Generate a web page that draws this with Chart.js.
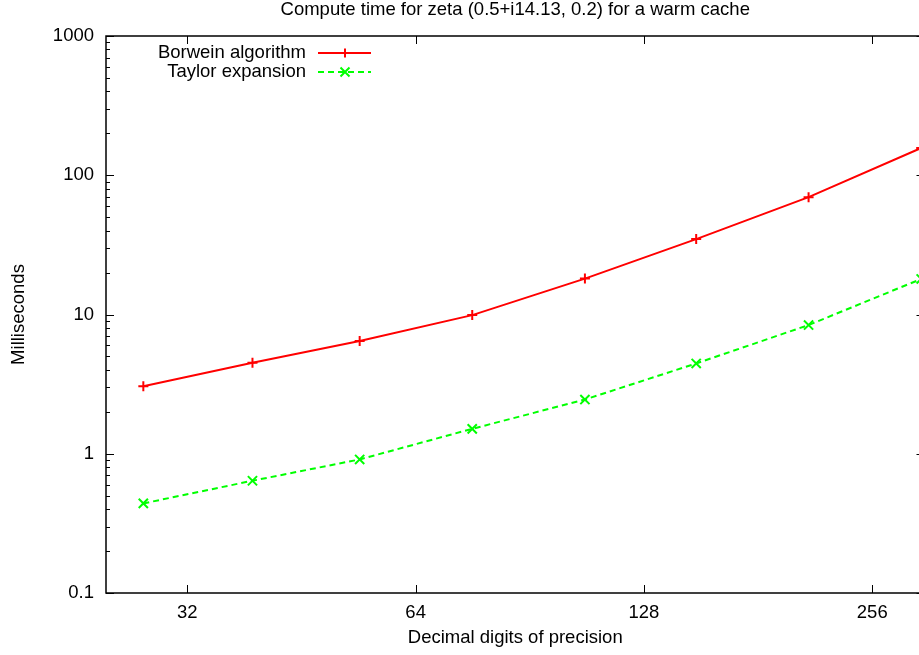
<!DOCTYPE html>
<html>
<head>
<meta charset="utf-8">
<script src="https://cdn.jsdelivr.net/npm/chart.js@4.4.1/dist/chart.umd.min.js"></script>
<style>
  html, body { margin: 0; padding: 0; background: #fff; overflow: hidden; }
  #wrap { position: absolute; left: 0; top: 0; width: 933px; height: 655px; }
  #chart { width: 933px; height: 655px; }
</style>
</head>
<body>
<div id="wrap"><canvas id="chart" width="933" height="655"></canvas></div>
<script>
// values
const digits = [28, 39, 54, 76, 107, 150, 211, 297];
const borweinMs = [3.05, 4.5, 6.45, 9.9, 18.1, 34.8, 69.6, 157];
const taylorMs = [0.44, 0.64, 0.91, 1.51, 2.45, 4.45, 8.4, 18.0];
const xTicks = [32, 64, 128, 256];
const yTicks = [0.1, 1, 10, 100, 1000];
const seriesNames = ['Borwein algorithm', 'Taylor expansion'];
const titleText = 'Compute time for zeta (0.5+i14.13, 0.2) for a warm cache';

const FONT = '"Liberation Sans", Arial, Helvetica, sans-serif';
const FS = 18.5;

function toPoints(xs, ys) {
    return xs.map((x, i) => ({ x: x, y: ys[i] }));
}

// gnuplot-like frame: border, inward ticks on all sides, minor log ticks on y
const framePlugin = {
    id: 'frame',
    beforeDatasetsDraw(chart) {
        const ctx = chart.ctx;
        const a = chart.chartArea;
        const xs = chart.scales.x;
        const ys = chart.scales.y;
        ctx.save();
        ctx.strokeStyle = '#000';
        ctx.lineWidth = 1.5;
        ctx.strokeRect(a.left, a.top, a.right - a.left, a.bottom - a.top);
        ctx.lineWidth = 1;
        ctx.beginPath();
        xTicks.forEach(v => {
            const px = Math.round(xs.getPixelForValue(v)) + 0.5;
            ctx.moveTo(px, a.bottom); ctx.lineTo(px, a.bottom - 8);
            ctx.moveTo(px, a.top); ctx.lineTo(px, a.top + 8);
        });
        yTicks.forEach(v => {
            const py = Math.round(ys.getPixelForValue(v)) + 0.5;
            ctx.moveTo(a.left, py); ctx.lineTo(a.left + 8, py);
            ctx.moveTo(a.right, py); ctx.lineTo(a.right - 8, py);
        });
        for (let d = 0; d < yTicks.length - 1; d++) {
            for (let m = 2; m <= 9; m++) {
                const py = Math.round(ys.getPixelForValue(yTicks[d] * m)) + 0.5;
                ctx.moveTo(a.left, py); ctx.lineTo(a.left + 4, py);
                ctx.moveTo(a.right, py); ctx.lineTo(a.right - 4, py);
            }
        }
        ctx.stroke();
        ctx.restore();
    },
    afterDraw(chart) {
        const ctx = chart.ctx;
        const a = chart.chartArea;
        ctx.save();
        // title
        ctx.fillStyle = '#000';
        ctx.font = FS + 'px ' + FONT;
        ctx.textAlign = 'center';
        ctx.textBaseline = 'middle';
        ctx.fillText(titleText, (a.left + a.right) / 2, 10);

        // key, text to the left of the sample like gnuplot
        ctx.textAlign = 'right';
        chart.data.datasets.forEach((ds, i) => {
            const y = 53 + i * 19;
            ctx.fillStyle = '#000';
            ctx.fillText(ds.label, 306, y);
            ctx.strokeStyle = ds.borderColor;
            ctx.lineWidth = ds.borderWidth;
            ctx.setLineDash(ds.borderDash || []);
            ctx.beginPath();
            ctx.moveTo(318, y); ctx.lineTo(371, y);
            ctx.stroke();
            ctx.setLineDash([]);
            ctx.lineWidth = 2;
            ctx.beginPath();
            const r = 4.5;
            if (ds.pointStyle === 'cross') {
                ctx.moveTo(345 - r, y); ctx.lineTo(345 + r, y);
                ctx.moveTo(345, y - r); ctx.lineTo(345, y + r);
            } else {
                ctx.moveTo(345 - r, y - r); ctx.lineTo(345 + r, y + r);
                ctx.moveTo(345 - r, y + r); ctx.lineTo(345 + r, y - r);
            }
            ctx.stroke();
        });
        ctx.restore();
    }
};

new Chart(document.getElementById('chart'), {
    type: 'line',
    data: {
        datasets: [
            {
                label: seriesNames[0],
                data: toPoints(digits, borweinMs),
                borderColor: '#ff0000',
                backgroundColor: '#ff0000',
                borderWidth: 2,
                pointStyle: 'cross',
                pointRadius: 5,
                pointBorderWidth: 2,
                tension: 0
            },
            {
                label: seriesNames[1],
                data: toPoints(digits, taylorMs),
                borderColor: '#00ff00',
                backgroundColor: '#00ff00',
                borderWidth: 2,
                borderDash: [6, 4],
                pointStyle: 'crossRot',
                pointRadius: 6.5,
                pointBorderWidth: 2,
                tension: 0
            }
        ]
    },
    options: {
        responsive: false,
        animation: false,
        layout: { padding: { top: 36, right: 2, left: 0, bottom: 0 } },
        plugins: {
            legend: { display: false },
            title: { display: false },
            tooltip: { enabled: false }
        },
        scales: {
            x: {
                type: 'logarithmic',
                min: 25,
                max: 300,
                border: { display: false },
                grid: { display: false, drawTicks: false },
                afterBuildTicks: s => { s.ticks = xTicks.map(v => ({ value: v })); },
                afterFit: s => { s.height = 62; },
                ticks: {
                    color: '#000',
                    padding: 9,
                    autoSkip: false,
                    maxRotation: 0,
                    font: { family: FONT, size: FS },
                    callback: v => String(v)
                },
                title: {
                    display: true,
                    text: 'Decimal digits of precision',
                    color: '#000',
                    font: { family: FONT, size: FS },
                    padding: { top: 0, bottom: 6 }
                }
            },
            y: {
                type: 'logarithmic',
                min: 0.1,
                max: 1000,
                border: { display: false },
                grid: { display: false, drawTicks: false },
                afterBuildTicks: s => { s.ticks = yTicks.map(v => ({ value: v })); },
                afterFit: s => { s.width = 106; },
                ticks: {
                    color: '#000',
                    padding: 12,
                    autoSkip: false,
                    font: { family: FONT, size: FS },
                    callback: v => String(v)
                },
                title: {
                    display: true,
                    text: 'Milliseconds',
                    color: '#000',
                    font: { family: FONT, size: FS },
                    padding: { top: 8, bottom: 0 }
                }
            }
        }
    },
    plugins: [framePlugin]
});
</script>
</body>
</html>
